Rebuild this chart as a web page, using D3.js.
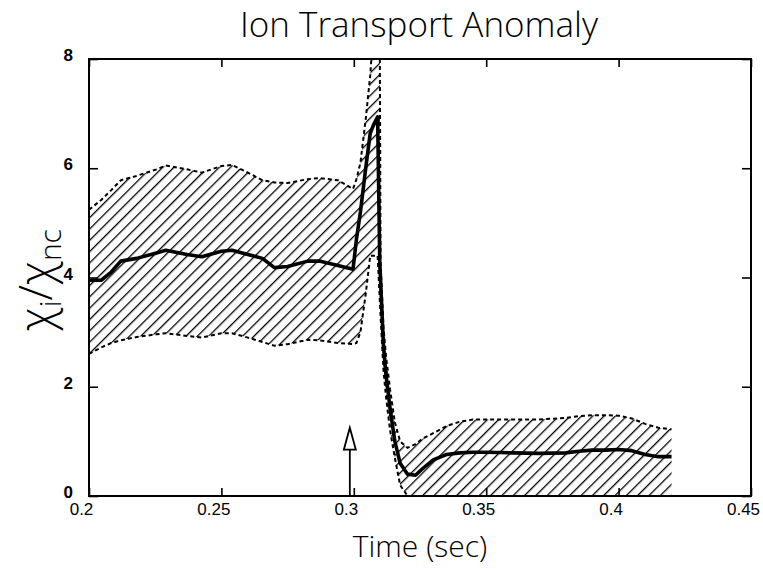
<!DOCTYPE html>
<html>
<head>
<meta charset="utf-8">
<script src="https://cdn.jsdelivr.net/npm/d3@7"></script>
<style>
  body { margin: 0; background: #fff; }
  text { fill: #000; }
</style>
</head>
<body>
<div class="chart"></div>
<script>
// time samples (sec) shared by the mean line and the error band
var times = [0.200, 0.2046, 0.2084, 0.212, 0.218, 0.2255, 0.229, 0.237, 0.2426, 0.250,
  0.254, 0.260, 0.2655, 0.270, 0.275, 0.2826, 0.287, 0.294, 0.2997, 0.3010,
  0.3025, 0.3045, 0.3062, 0.3075, 0.3090, 0.3098, 0.3101, 0.3112, 0.3122, 0.3137,
  0.3155, 0.3175, 0.3203, 0.3233, 0.3260, 0.330, 0.335, 0.340, 0.345, 0.350,
  0.360, 0.370, 0.380, 0.385, 0.390, 0.395, 0.400, 0.405, 0.410, 0.415, 0.420];
var ratio = [3.95, 3.95, 4.10, 4.30, 4.35, 4.45, 4.50, 4.42, 4.38, 4.48,
  4.50, 4.42, 4.35, 4.18, 4.20, 4.30, 4.30, 4.22, 4.15, 4.70,
  5.20, 6.00, 6.64, 6.80, 6.94, 4.30, 3.95, 2.75, 2.20, 1.60,
  1.00, 0.60, 0.40, 0.38, 0.50, 0.66, 0.76, 0.79, 0.80, 0.80,
  0.79, 0.78, 0.79, 0.82, 0.84, 0.84, 0.85, 0.83, 0.76, 0.72, 0.72];
var upper = [5.24, 5.42, 5.60, 5.78, 5.86, 5.98, 6.05, 5.98, 5.92, 6.04,
  6.06, 5.92, 5.78, 5.74, 5.73, 5.80, 5.82, 5.78, 5.62, 5.80,
  6.10, 6.90, 7.70, 8.60, 8.60, 8.60, 4.30, 3.10, 2.55, 1.95,
  1.35, 1.00, 0.88, 0.95, 1.05, 1.15, 1.28, 1.36, 1.40, 1.40,
  1.40, 1.40, 1.43, 1.46, 1.48, 1.48, 1.47, 1.42, 1.32, 1.25, 1.22];
var lower = [2.60, 2.72, 2.80, 2.85, 2.91, 2.96, 2.98, 2.93, 2.90, 2.98,
  2.98, 2.90, 2.82, 2.75, 2.78, 2.86, 2.85, 2.80, 2.78, 2.80,
  3.00, 3.70, 4.40, 4.40, 4.40, 3.60, 3.30, 2.30, 1.80, 1.20,
  0.70, 0.20, 0.00, -0.10, -0.10, -0.10, -0.10, -0.10, -0.10, -0.10,
  -0.10, -0.10, -0.10, -0.10, -0.10, -0.10, -0.10, -0.10, -0.10, -0.10, -0.10];

var xTicks = [0.2, 0.25, 0.3, 0.35, 0.4, 0.45];
var yTicks = [0, 2, 4, 6, 8];
var xTickLabels = ["0.2", "0.25", "0.3", "0.35", "0.4", "0.45"];

// the heating pulse marker
var arrowTime = 0.2985;
var arrowTop = 1.25;

var W = 763, H = 569;
var margin = {top: 59, right: 12, bottom: 73, left: 89};
var w = W - margin.left - margin.right;
var h = H - margin.top - margin.bottom;

var svg = d3.select(".chart").append("svg")
    .attr("width", W)
    .attr("height", H)
    .style("font-family", "'Liberation Sans', Arial, sans-serif");

var defs = svg.append("defs");
defs.append("clipPath").attr("id", "plotclip")
  .append("rect").attr("width", w).attr("height", h);
defs.append("pattern")
    .attr("id", "hatch")
    .attr("patternUnits", "userSpaceOnUse")
    .attr("width", 8).attr("height", 8)
    .attr("patternTransform", "rotate(45)")
  .append("line")
    .attr("x1", 0).attr("y1", 0).attr("x2", 0).attr("y2", 8)
    .attr("stroke", "#000").attr("stroke-width", 2.6);

var g = svg.append("g").attr("transform", "translate(" + margin.left + "," + margin.top + ")");

var x = d3.scaleLinear().domain([0.2, 0.45]).range([0, w]);
var y = d3.scaleLinear().domain([0, 8]).range([h, 0]);

var data = times.map(function(t, i) {
  return {t: t, m: ratio[i], hi: upper[i], lo: lower[i]};
});

var plot = g.append("g").attr("clip-path", "url(#plotclip)");

plot.append("path")
    .datum(data)
    .attr("fill", "url(#hatch)")
    .attr("d", d3.area()
      .x(function(d) { return x(d.t); })
      .y0(function(d) { return y(d.lo); })
      .y1(function(d) { return y(d.hi); }));

var edge = function(key) {
  return d3.line().x(function(d) { return x(d.t); }).y(function(d) { return y(d[key]); });
};
["hi", "lo"].forEach(function(k) {
  plot.append("path")
      .datum(data)
      .attr("fill", "none")
      .attr("stroke", "#000")
      .attr("stroke-width", 2)
      .attr("stroke-dasharray", "4,3")
      .attr("d", edge(k));
});

plot.append("path")
    .datum(data)
    .attr("fill", "none")
    .attr("stroke", "#000")
    .attr("stroke-width", 3.6)
    .attr("stroke-linejoin", "round")
    .attr("d", edge("m"));

// arrow
var ax = x(arrowTime);
var headH = 22, headW = 12;
g.append("line")
    .attr("x1", ax).attr("x2", ax)
    .attr("y1", y(0)).attr("y2", y(arrowTop) + headH)
    .attr("stroke", "#000").attr("stroke-width", 1.8);
g.append("path")
    .attr("d", "M" + ax + "," + y(arrowTop) + "L" + (ax + headW / 2) + "," + (y(arrowTop) + headH) +
      "L" + (ax - headW / 2) + "," + (y(arrowTop) + headH) + "Z")
    .attr("fill", "#fff").attr("stroke", "#000").attr("stroke-width", 1.8);

// axes, ticks pointing in
var bottom = g.append("g").attr("transform", "translate(0," + h + ")")
  .call(d3.axisBottom(x).tickValues(xTicks).tickSizeInner(-8).tickSizeOuter(0).tickPadding(7)
    .tickFormat(function(d, i) { return xTickLabels[i]; }));
bottom.selectAll("text").style("font-size", "17px").attr("dx", -8);
g.append("g")
  .call(d3.axisTop(x).tickValues(xTicks).tickSizeInner(-8).tickSizeOuter(0).tickFormat(""));
var left = g.append("g")
  .call(d3.axisLeft(y).tickValues(yTicks).tickSizeInner(-9).tickSizeOuter(0).tickPadding(16));
left.selectAll("text").style("font-size", "17px").style("font-weight", "bold").attr("dy", "0.1em");
g.append("g").attr("transform", "translate(" + w + ",0)")
  .call(d3.axisRight(y).tickValues(yTicks).tickSizeInner(-9).tickSizeOuter(0).tickFormat(""));

g.selectAll(".domain").remove();
g.selectAll(".tick line").attr("stroke", "#000").attr("stroke-width", 1.6);
g.selectAll(".tick text").attr("fill", "#000");

g.append("rect")
    .attr("width", w).attr("height", h)
    .attr("fill", "none").attr("stroke", "#000").attr("stroke-width", 2);

// titles
svg.append("text")
    .attr("x", 419).attr("y", 37)
    .attr("text-anchor", "middle")
    .style("font-family", "'Open Sans', sans-serif")
    .style("font-weight", 300)
    .style("font-size", "35px")
    .text("Ion Transport Anomaly");

svg.append("text")
    .attr("x", 420).attr("y", 557)
    .attr("text-anchor", "middle")
    .style("font-family", "'Open Sans', sans-serif")
    .style("font-weight", 300)
    .style("font-size", "30px")
    .text("Time (sec)");

var yl = svg.append("text")
    .attr("transform", "translate(52,280) rotate(-90)")
    .attr("text-anchor", "middle")
    .style("font-family", "'Open Sans', sans-serif")
    .style("font-weight", 300)
    .style("font-size", "46px");
yl.append("tspan").text("\u03c7");
yl.append("tspan").attr("dy", 9).style("font-size", "30px").text("i");
yl.append("tspan").attr("dy", -9).text("/\u03c7");
yl.append("tspan").attr("dy", 9).style("font-size", "30px").text("nc");
</script>
</body>
</html>
